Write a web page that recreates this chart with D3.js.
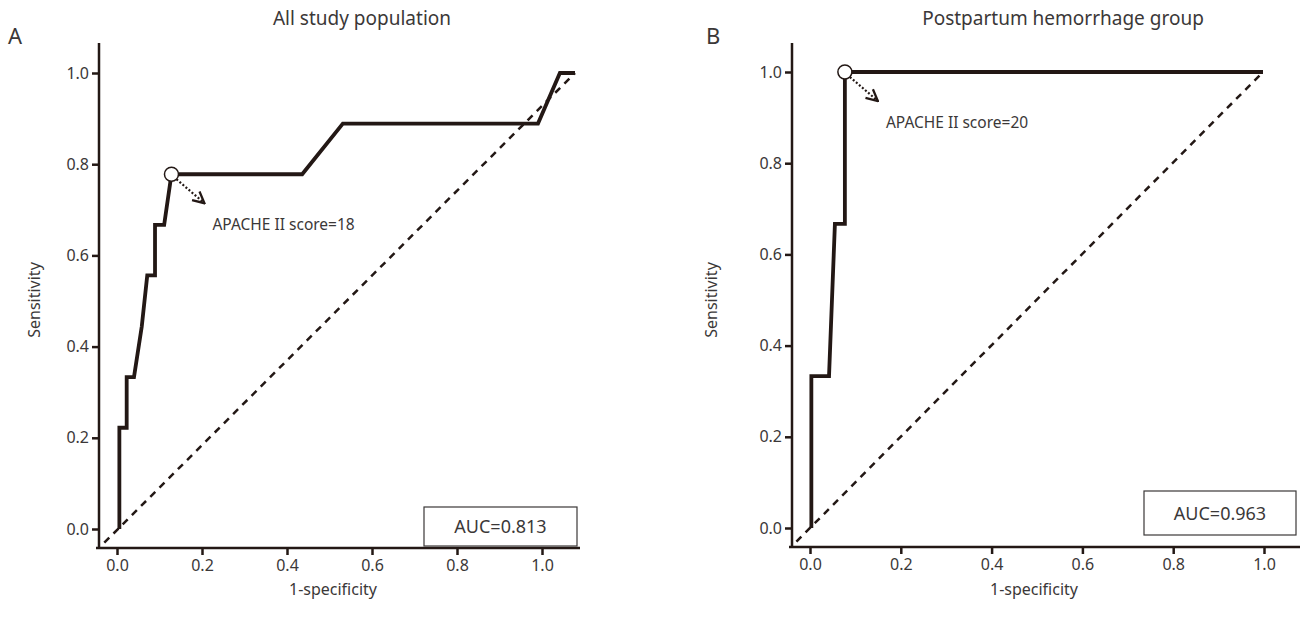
<!DOCTYPE html>
<html>
<head>
<meta charset="utf-8">
<script src="https://cdn.jsdelivr.net/npm/d3@7"></script>
<style>
  body { margin: 0; background: #fff; }
  text { font-family: "Noto Sans", "Open Sans", sans-serif; fill: #3b3838; }
</style>
</head>
<body>
<script>
// values
const tickValues = [0, 0.2, 0.4, 0.6, 0.8, 1.0];

const allFpr = [0.003, 0.003, 0.019, 0.019, 0.035, 0.052, 0.064, 0.081, 0.081, 0.101, 0.117, 0.403, 0.492, 0.919, 0.967, 1.0];
const allTpr = [0.0, 0.222, 0.222, 0.333, 0.333, 0.444, 0.556, 0.556, 0.667, 0.667, 0.778, 0.778, 0.889, 0.889, 1.0, 1.0];
const allCut = [0.117, 0.778];

const pphFpr = [0.003, 0.003, 0.042, 0.055, 0.077, 0.077, 1.0];
const pphTpr = [0.0, 0.333, 0.333, 0.667, 0.667, 1.0, 1.0];
const pphCut = [0.077, 1.0];

const diagonal = [-0.03, 1.0];

const ink = "#231815";

const svg = d3.select("body").append("svg")
  .attr("width", 1309)
  .attr("height", 619);

const defs = svg.append("defs");
defs.append("marker")
  .attr("id", "head")
  .attr("viewBox", "0 0 10 10")
  .attr("refX", 9).attr("refY", 5)
  .attr("markerWidth", 6.5).attr("markerHeight", 6.5)
  .attr("orient", "auto")
  .append("path")
  .attr("d", "M1,1 L9,5 L1,9")
  .attr("fill", "none")
  .attr("stroke", ink)
  .attr("stroke-width", 1.6);

function drawPanel(p) {
  let g = svg.append("g");

  // the tick positions and the curve do not share exactly the same span in the source
  let xAxisScale = d3.scaleLinear().domain([0, 1]).range(p.tickRange);
  let xScale = d3.scaleLinear().domain([0, 1]).range(p.dataRange);
  let yScale = d3.scaleLinear().domain([0, 1]).range(p.yRange);

  // frame lines
  g.append("line")
    .attr("x1", p.left).attr("x2", p.left)
    .attr("y1", p.top).attr("y2", p.bottom)
    .attr("stroke", ink).attr("stroke-width", 2.5);
  g.append("line")
    .attr("x1", p.left - 3).attr("x2", p.right)
    .attr("y1", p.bottom).attr("y2", p.bottom)
    .attr("stroke", ink).attr("stroke-width", 2.5);

  let xAxis = d3.axisBottom(xAxisScale)
    .tickValues(tickValues)
    .tickFormat(d3.format(".1f"))
    .tickSize(7)
    .tickPadding(5);
  let xg = g.append("g")
    .attr("transform", `translate(0,${p.bottom})`)
    .call(xAxis);
  xg.select(".domain").remove();
  xg.selectAll(".tick line").attr("stroke", ink).attr("stroke-width", 2.5);
  xg.selectAll(".tick text").attr("font-size", 16).attr("font-family", null).attr("fill", null);

  let yAxis = d3.axisLeft(yScale)
    .tickValues(tickValues)
    .tickFormat(d3.format(".1f"))
    .tickSize(7)
    .tickPadding(3);
  let yg = g.append("g")
    .attr("transform", `translate(${p.left},0)`)
    .call(yAxis);
  yg.select(".domain").remove();
  yg.selectAll(".tick line").attr("stroke", ink).attr("stroke-width", 2.5);
  yg.selectAll(".tick text").attr("font-size", 16).attr("font-family", null).attr("fill", null);

  // reference diagonal
  g.append("line")
    .attr("x1", xScale(diagonal[0])).attr("y1", yScale(diagonal[0]))
    .attr("x2", xScale(diagonal[1])).attr("y2", yScale(diagonal[1]))
    .attr("stroke", ink)
    .attr("stroke-width", 2.5)
    .attr("stroke-dasharray", "7,6");

  // roc curve
  let line = d3.line()
    .x(i => xScale(p.fpr[i]))
    .y(i => yScale(p.tpr[i]));
  g.append("path")
    .datum(d3.range(p.fpr.length))
    .attr("d", line)
    .attr("fill", "none")
    .attr("stroke", ink)
    .attr("stroke-width", 3.8)
    .attr("stroke-linejoin", "miter");

  // cut-off marker, arrow and label
  let cx = xScale(p.cut[0]), cy = yScale(p.cut[1]);
  g.append("line")
    .attr("x1", cx + 5).attr("y1", cy + 5)
    .attr("x2", cx + 33).attr("y2", cy + 29)
    .attr("stroke", ink)
    .attr("stroke-width", 2.2)
    .attr("stroke-dasharray", "2,2")
    .attr("marker-end", "url(#head)");
  g.append("circle")
    .attr("cx", cx).attr("cy", cy).attr("r", 7)
    .attr("fill", "#fff")
    .attr("stroke", ink)
    .attr("stroke-width", 1.5);
  g.append("text")
    .attr("x", cx + 41).attr("y", cy + 56)
    .attr("font-size", 15.5)
    .text(p.note);

  // auc box
  g.append("rect")
    .attr("x", p.auc[0]).attr("y", p.auc[1])
    .attr("width", p.auc[2]).attr("height", p.auc[3])
    .attr("fill", "#fff")
    .attr("stroke", "#3b3838")
    .attr("stroke-width", 1.2);
  g.append("text")
    .attr("x", p.auc[0] + p.auc[2] / 2)
    .attr("y", p.auc[1] + p.auc[3] / 2 + 6.5)
    .attr("text-anchor", "middle")
    .attr("font-size", 18)
    .text(p.aucText);

  // titles and labels
  g.append("text")
    .attr("x", p.titleX).attr("y", 25)
    .attr("text-anchor", "middle")
    .attr("font-size", 19)
    .text(p.title);
  g.append("text")
    .attr("x", p.letterX).attr("y", 44)
    .attr("font-size", 22)
    .text(p.letter);
  g.append("text")
    .attr("x", p.xLabelX).attr("y", 595)
    .attr("text-anchor", "middle")
    .attr("font-size", 16)
    .text("1-specificity");
  g.append("text")
    .attr("transform", `translate(${p.yLabelX},300) rotate(-90)`)
    .attr("text-anchor", "middle")
    .attr("font-size", 16)
    .text("Sensitivity");
}

drawPanel({
  letter: "A", letterX: 8, title: "All study population", titleX: 362,
  left: 99, right: 580, top: 43, bottom: 548,
  tickRange: [117, 542], dataRange: [118, 575], yRange: [529, 73],
  fpr: allFpr, tpr: allTpr, cut: allCut,
  note: "APACHE II score=18",
  auc: [424, 507, 153, 39], aucText: "AUC=0.813",
  xLabelX: 333, yLabelX: 40
});

drawPanel({
  letter: "B", letterX: 706, title: "Postpartum hemorrhage group", titleX: 1063,
  left: 792, right: 1300, top: 43, bottom: 547,
  tickRange: [810, 1264], dataRange: [810, 1263], yRange: [528, 72],
  fpr: pphFpr, tpr: pphTpr, cut: pphCut,
  note: "APACHE II score=20",
  auc: [1144, 491, 152, 44], aucText: "AUC=0.963",
  xLabelX: 1034, yLabelX: 717
});
</script>
</body>
</html>
